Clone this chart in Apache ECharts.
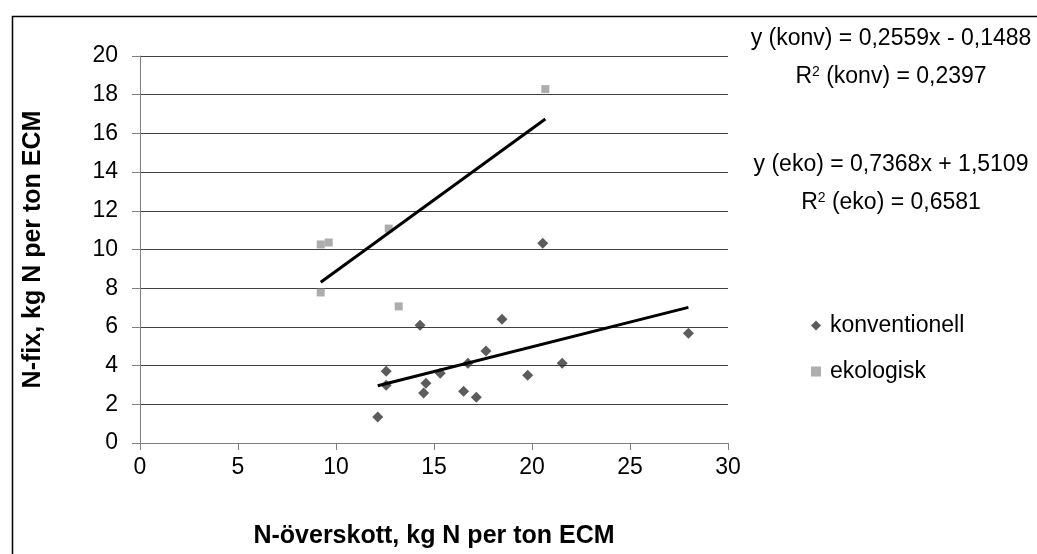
<!DOCTYPE html>
<html>
<head>
<meta charset="utf-8">
<script src="https://cdn.jsdelivr.net/npm/echarts@6/dist/echarts.min.js"></script>
<style>
html,body{margin:0;padding:0;background:#fff;}
#chart{width:1037px;height:554px;}
</style>
</head>
<body>
<div id="chart"></div>
<script>
// konventionell: [N-överskott, N-fix]
const konvX = [14.29, 18.47, 12.56, 12.56, 14.59, 14.47, 15.32, 16.73, 17.65, 16.51, 17.16, 19.78, 12.13, 20.55, 21.54, 27.98];
const konvY = [6.08, 6.39, 3.71, 2.99, 3.09, 2.58, 3.61, 4.12, 4.76, 2.68, 2.37, 3.50, 1.34, 10.32, 4.12, 5.67];
// ekologisk
const ekoX = [9.22, 9.63, 12.69, 9.22, 13.20, 20.68];
const ekoY = [10.26, 10.36, 11.08, 7.78, 7.06, 18.29];
// trend line coefficients (as printed)
const konvSlope = 0.2559, konvIntercept = -0.1488, konvR2 = '0,2397';
const ekoSlope = 0.7368, ekoIntercept = 1.5109, ekoR2 = '0,6581';
const xTicks = [0, 5, 10, 15, 20, 25, 30];
const yTicks = [0, 2, 4, 6, 8, 10, 12, 14, 16, 18, 20];

function pairs(xs, ys) { return xs.map((x, i) => [x, ys[i]]); }
function trend(xs, a, b) {
  const lo = Math.min(...xs), hi = Math.max(...xs);
  return [[lo, a * lo + b], [hi, a * hi + b]];
}

const FONT = '"Liberation Sans", Arial, sans-serif';
const EQ = 23;
const supRich = {
  n: {fontFamily: FONT, fontSize: EQ, color: '#000'},
  s: {fontFamily: FONT, fontSize: 14, color: '#000', verticalAlign: 'top', padding: [0, 0, 10, 0]}
};
const chart = echarts.init(document.getElementById('chart'), null, {renderer: 'canvas'});
chart.setOption({
  animation: false,
  backgroundColor: '#fff',
  grid: {left: 140, top: 56, right: 309, bottom: 110, containLabel: false},
  xAxis: {
    type: 'value', min: xTicks[0], max: xTicks[xTicks.length - 1], interval: 5,
    name: 'N-överskott, kg N per ton ECM', nameLocation: 'middle', nameGap: 81,
    nameTextStyle: {fontFamily: FONT, fontSize: 25, fontWeight: 'bold', color: '#000'},
    axisLine: {show: true, lineStyle: {color: '#808080', width: 1}},
    axisTick: {show: true, length: 7, lineStyle: {color: '#808080'}},
    axisLabel: {fontFamily: FONT, fontSize: 23, color: '#000', margin: 13},
    splitLine: {show: false}
  },
  yAxis: {
    type: 'value', min: yTicks[0], max: yTicks[yTicks.length - 1], interval: 2,
    name: 'N-fix, kg N per ton ECM', nameLocation: 'middle', nameGap: 94,
    nameTextStyle: {fontFamily: FONT, fontSize: 25, fontWeight: 'bold', color: '#000'},
    axisLine: {show: true, lineStyle: {color: '#808080', width: 1}},
    axisTick: {show: true, inside: false, length: 8, lineStyle: {color: '#808080'}},
    axisLabel: {fontFamily: FONT, fontSize: 23, color: '#000', margin: 22},
    splitLine: {show: true, lineStyle: {color: '#404040', width: 1}}
  },
  legend: {
    orient: 'vertical', left: 806, top: 309, itemGap: 23,
    itemWidth: 10, itemHeight: 10,
    textStyle: {fontFamily: FONT, fontSize: 23, color: '#000', padding: [0, 0, 0, 4]},
    data: [
      {name: 'konventionell', icon: 'diamond'},
      {name: 'ekologisk', icon: 'rect'}
    ]
  },
  series: [
    {
      name: 'konventionell', type: 'scatter', symbol: 'diamond', symbolSize: 11,
      itemStyle: {color: '#333333'}, data: pairs(konvX, konvY), z: 3
    },
    {
      name: 'ekologisk', type: 'scatter', symbol: 'rect', symbolSize: 8,
      itemStyle: {color: '#999999'}, data: pairs(ekoX, ekoY), z: 3
    },
    {
      name: 'trend konv', type: 'line', data: trend(konvX, konvSlope, konvIntercept),
      showSymbol: false, symbol: 'none', lineStyle: {color: '#000', width: 3}, z: 4
    },
    {
      name: 'trend eko', type: 'line', data: trend(ekoX, ekoSlope, ekoIntercept),
      showSymbol: false, symbol: 'none', lineStyle: {color: '#000', width: 3}, z: 4
    }
  ],
  graphic: [
    {type: 'rect', left: 10, top: 14, z: -1, silent: true,
     shape: {x: 0, y: 0, width: 1040, height: 560},
     style: {fill: 'none', stroke: '#000', lineWidth: 1.5}},
    {type: 'text', x: 891, y: 39, silent: true,
     style: {text: 'y (konv) = ' + String(konvSlope).replace('.', ',') + 'x - ' + String(-konvIntercept).replace('.', ','),
       font: EQ + 'px ' + FONT, fill: '#000', align: 'center', verticalAlign: 'middle'}},
    {type: 'text', x: 891, y: 77, silent: true,
     style: {text: '{n|R}{s|2}{n| (konv) = ' + konvR2 + '}', font: EQ + 'px ' + FONT, fill: '#000', align: 'center', verticalAlign: 'middle', rich: supRich}},
    {type: 'text', x: 891, y: 165, silent: true,
     style: {text: 'y (eko) = ' + String(ekoSlope).replace('.', ',') + 'x + ' + String(ekoIntercept).replace('.', ','),
       font: EQ + 'px ' + FONT, fill: '#000', align: 'center', verticalAlign: 'middle'}},
    {type: 'text', x: 891, y: 203, silent: true,
     style: {text: '{n|R}{s|2}{n| (eko) = ' + ekoR2 + '}', font: EQ + 'px ' + FONT, fill: '#000', align: 'center', verticalAlign: 'middle', rich: supRich}}
  ]
});
</script>
</body>
</html>
